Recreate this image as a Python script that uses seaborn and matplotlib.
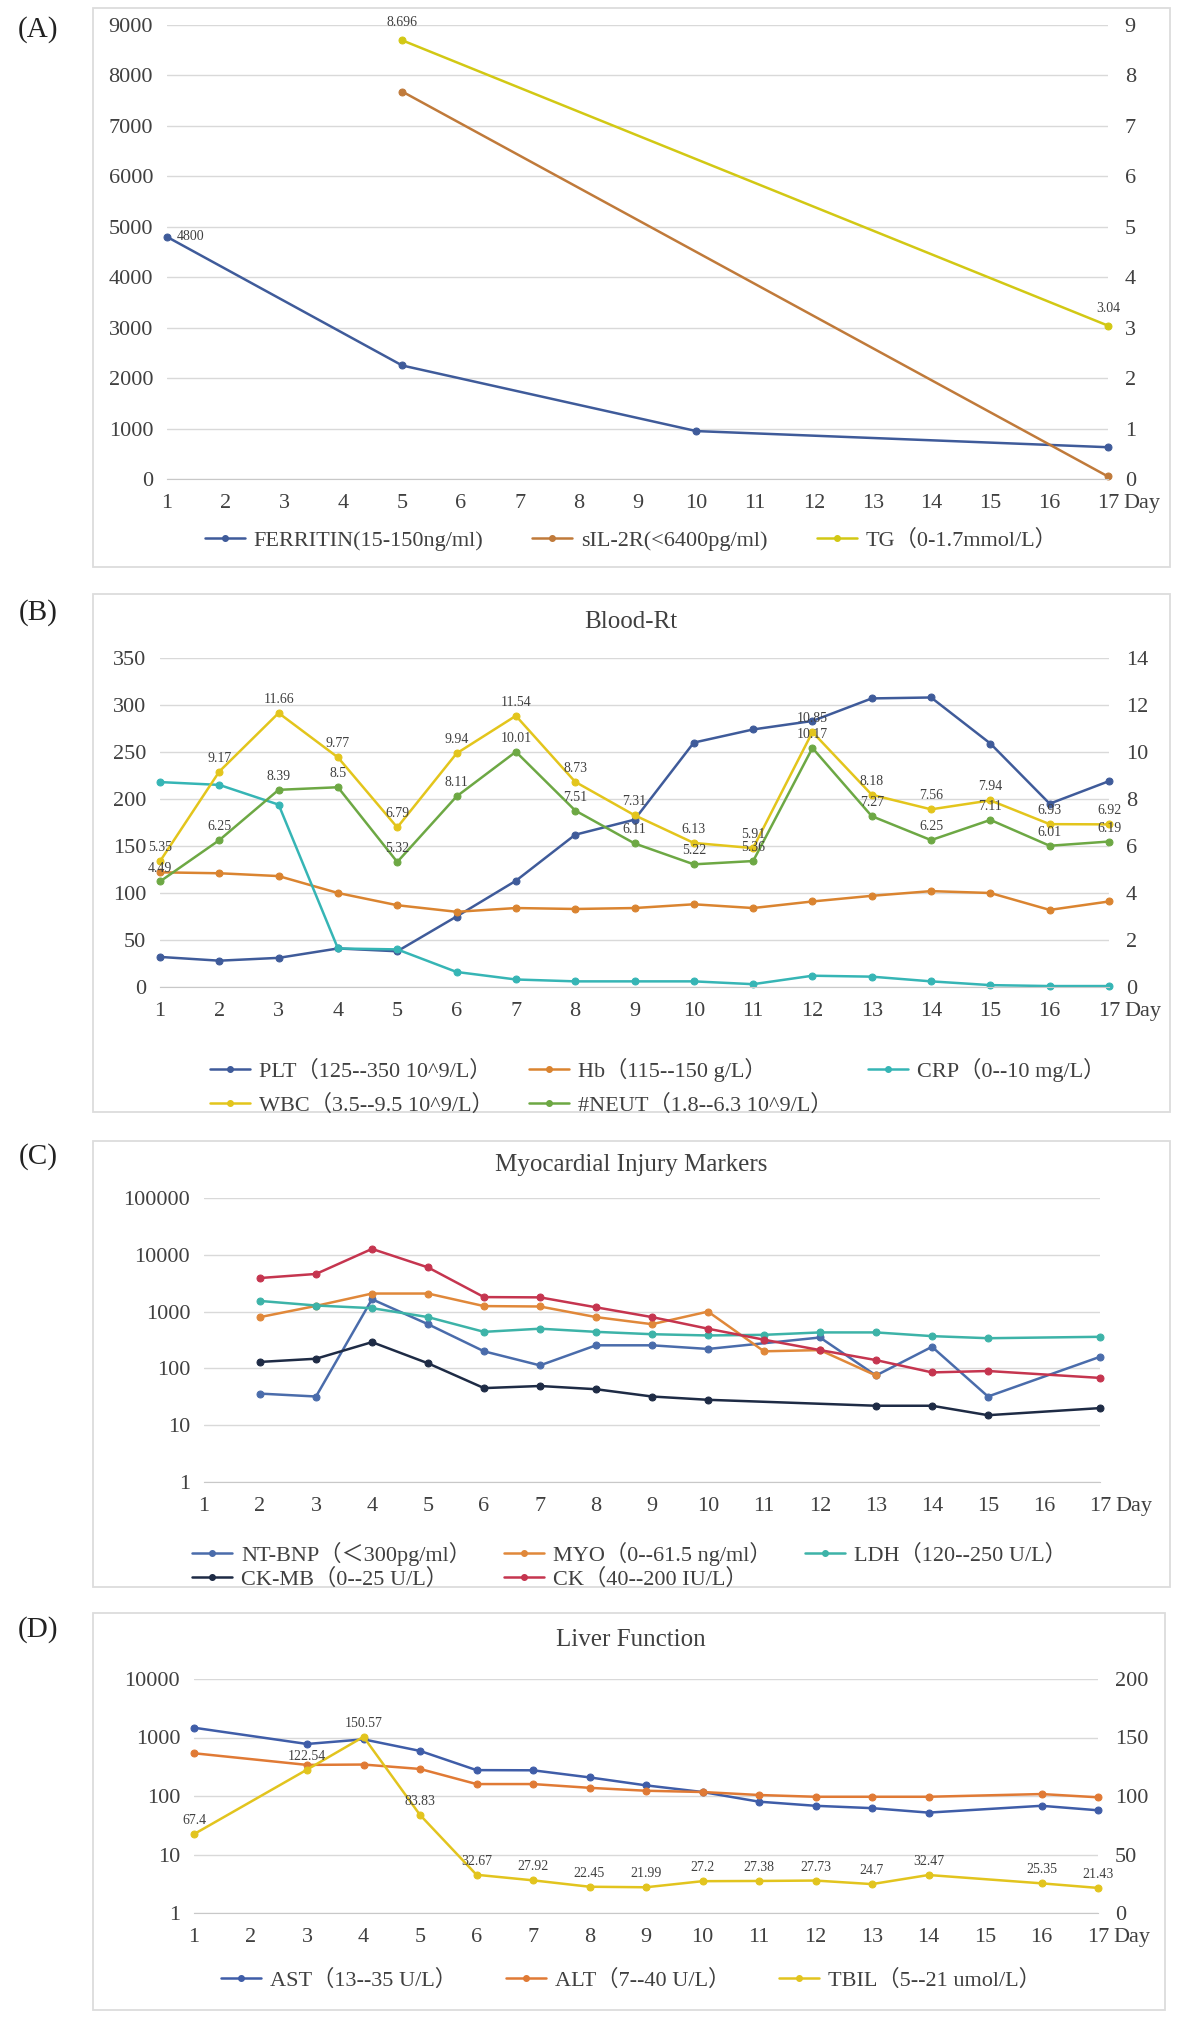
import numpy as np
import pandas as pd
import matplotlib
matplotlib.use("Agg")
import matplotlib.pyplot as plt
import seaborn as sns
from matplotlib.patches import Rectangle
from matplotlib.lines import Line2D
from matplotlib.ticker import FixedLocator, NullLocator

sns.set_style("white")
plt.rcParams['font.family'] = ['Liberation Serif', 'Noto Sans CJK SC', 'DejaVu Sans']

NA = np.nan
days = list(range(1, 18))

# ---------------- Panel A ----------------
ferritin = [4800, NA, NA, NA, 2250, NA, NA, NA, NA, 950, NA, NA, NA, NA, NA, NA, 630]
sil2r = [NA, NA, NA, NA, 7680, NA, NA, NA, NA, NA, NA, NA, NA, NA, NA, NA, 50]
tg = [NA, NA, NA, NA, 8.696, NA, NA, NA, NA, NA, NA, NA, NA, NA, NA, NA, 3.04]
labels_A = ["FERRITIN(15-150ng/ml)", "sIL-2R(<6400pg/ml)", "TG（0-1.7mmol/L）"]

# ---------------- Panel B ----------------
plt_v = [32, 28, 31, 41, 38, 75, 113, 162, 178, 260, 274, 283, 307, 308, 259, 195, 219]
hb = [122, 121, 118, 100, 87, 80, 84, 83, 84, 88, 84, 91, 97, 102, 100, 82, 91]
crp = [218, 215, 194, 41, 40, 16, 8, 6, 6, 6, 3, 12, 11, 6, 2, 1, 1]
wbc = [5.35, 9.17, 11.66, 9.77, 6.79, 9.94, 11.54, 8.73, 7.31, 6.13, 5.91, 10.85, 8.18, 7.56, 7.94, 6.93, 6.92]
neut = [4.49, 6.25, 8.39, 8.5, 5.32, 8.11, 10.01, 7.51, 6.11, 5.22, 5.36, 10.17, 7.27, 6.25, 7.11, 6.01, 6.19]
labels_B = ["PLT（125--350 10^9/L）", "Hb（115--150 g/L）", "CRP（0--10 mg/L）",
            "WBC（3.5--9.5 10^9/L）", "#NEUT（1.8--6.3 10^9/L）"]

# ---------------- Panel C ----------------
ntbnp = [NA, 36, 32, 1650, 600, 200, 113, 255, 255, 220, NA, 350, 75, 240, 32, NA, 160]
myo = [NA, 800, 1260, 2080, 2080, 1250, 1230, 800, 600, 1000, 200, 210, 75, NA, NA, NA, NA]
ldh = [NA, 1540, 1280, 1150, 800, 440, 500, 440, 400, 380, 390, 430, 430, 370, 340, NA, 360]
ckmb = [NA, 130, 148, 290, 123, 45, 49, 43, 32, 28, NA, NA, 22, 22, 15, NA, 20]
ck = [NA, 3900, 4600, 12700, 6000, 1800, 1780, 1190, 800, 500, 320, 210, 140, 85, 90, NA, 68]
labels_C = ["NT-BNP（＜300pg/ml）", "MYO（0--61.5 ng/ml）", "LDH（120--250 U/L）",
            "CK-MB（0--25 U/L）", "CK（40--200 IU/L）"]

# ---------------- Panel D ----------------
ast = [1470, NA, 775, 930, 590, 277, 275, 208, 152, 117, 80, 68, 62, 52, NA, 68, 57]
alt = [538, NA, 340, 345, 290, 160, 160, 138, 123, 117, 104, 97, 97, 97, NA, 108, 95]
tbil = [67.4, NA, 122.54, 150.57, 83.83, 32.67, 27.92, 22.45, 21.99, 27.2, 27.38, 27.73, 24.7, 32.47, NA, 25.35, 21.43]
labels_D = ["AST（13--35 U/L）", "ALT（7--40 U/L）", "TBIL（5--21 umol/L）"]

W, H = 1181, 2021
fig = plt.figure(figsize=(W / 100, H / 100), dpi=100)
fig.patch.set_facecolor("white")

TXT = "#404040"
GRID = "#d9d9d9"
TICKFS = 16


def ax_px(l, t, r, b):
    return fig.add_axes([l / W, 1 - b / H, (r - l) / W, (b - t) / H])


def box(l, t, r, b):
    fig.patches.append(Rectangle((l / W, 1 - b / H), (r - l) / W, (b - t) / H,
                                 transform=fig.transFigure, fill=False,
                                 ec="#dcdcdc", lw=1.3, zorder=0))


def series(ax, y, color, annotate=False, fmt="{:g}", offset=(0, 5)):
    df = pd.DataFrame({"day": days, "v": y}).dropna()
    sns.lineplot(data=df, x="day", y="v", ax=ax, color=color, marker="o",
                 markersize=5, markeredgecolor=color, linewidth=1.8, legend=False,
                 clip_on=False)
    if annotate:
        for d, v in zip(df["day"], df["v"]):
            ax.annotate(fmt.format(v), (d, v), xytext=offset, textcoords="offset points",
                        ha="center", va="bottom", fontsize=10, color=TXT)
    return Line2D([], [], color=color, lw=1.8, marker="o", markersize=4)


def style(ax, right=None):
    for s in ["top", "right", "left"]:
        ax.spines[s].set_visible(False)
    ax.spines["bottom"].set_color("#c8c8c8")
    ax.set_xlim(1, 17)
    ax.set_xticks(days)
    ax.tick_params(axis="x", length=6, direction="inout", color="#c8c8c8",
                   labelsize=TICKFS, labelcolor=TXT, pad=8)
    ax.tick_params(axis="y", length=0, labelsize=TICKFS, labelcolor=TXT, pad=10)
    ax.grid(axis="y", color=GRID, lw=1)
    ax.grid(axis="x", visible=False)
    ax.set_xlabel("")
    ax.set_ylabel("")
    ax.annotate("Day", xy=(17, 0), xycoords=("data", "axes fraction"),
                xytext=(11, -11), textcoords="offset points", ha="left", va="top",
                fontsize=TICKFS, color=TXT)


def style_right(ax2):
    for s in ["top", "right", "left", "bottom"]:
        ax2.spines[s].set_visible(False)
    ax2.tick_params(axis="y", length=0, labelsize=TICKFS, labelcolor=TXT, pad=12)
    ax2.grid(False)
    ax2.set_ylabel("")


def panel_label(txt, x, y):
    fig.text(x / W, 1 - y / H, txt, fontsize=21, color="#222222", ha="center", va="center")


def title(txt, y):
    fig.text(631 / W, 1 - y / H, txt, fontsize=18, color=TXT, ha="center", va="center")


# ================= Panel A =================
box(93, 8, 1170, 567)
panel_label("(A)", 38, 30)
axA = ax_px(167, 25, 1108, 479)
axA2 = axA.twinx()
hA = [series(axA, ferritin, "#3F5B9A"), series(axA, sil2r, "#C07A3A"),
      series(axA2, tg, "#D2C814")]
axA.annotate("4800", (1, 4800), xytext=(7, 0), textcoords="offset points",
             ha="left", va="center", fontsize=10, color=TXT)
axA2.annotate("8.696", (5, 8.696), xytext=(0, 8), textcoords="offset points",
              ha="center", va="bottom", fontsize=10, color=TXT)
axA2.annotate("3.04", (17, 3.04), xytext=(0, 8), textcoords="offset points",
              ha="center", va="bottom", fontsize=10, color=TXT)
axA.set_ylim(0, 9000)
axA.set_yticks(range(0, 9001, 1000))
axA2.set_ylim(0, 9)
axA2.set_yticks(range(0, 10))
style(axA)
style_right(axA2)
fig.legend(hA, labels_A, loc="center", bbox_to_anchor=(631 / W, 1 - 540 / H), ncol=3,
           frameon=False, fontsize=16, handlelength=1.8, handletextpad=0.4,
           columnspacing=2.2, labelcolor=TXT)

# ================= Panel B =================
box(93, 594, 1170, 1112)
panel_label("(B)", 38, 613)
title("Blood-Rt", 622)
axB = ax_px(160, 658, 1109, 987)
axB2 = axB.twinx()
hB = [series(axB, plt_v, "#3F5B9A"), series(axB, hb, "#DA8430"), series(axB, crp, "#36B5B5"),
      series(axB2, wbc, "#E3C51C", annotate=True), series(axB2, neut, "#6DA844", annotate=True)]
axB.set_ylim(0, 350)
axB.set_yticks(range(0, 351, 50))
axB2.set_ylim(0, 14)
axB2.set_yticks(range(0, 15, 2))
style(axB)
style_right(axB2)
order = [0, 3, 1, 4, 2]
fig.legend([hB[i] for i in order], [labels_B[i] for i in order], loc="upper left",
           bbox_to_anchor=(190 / W, 1 - 1038 / H), ncol=3, frameon=False, fontsize=16,
           handlelength=1.8, handletextpad=0.4, columnspacing=1.6, labelspacing=0.55,
           labelcolor=TXT)

# ================= Panel C =================
box(93, 1141, 1170, 1587)
panel_label("(C)", 38, 1157)
title("Myocardial Injury Markers", 1165)
axC = ax_px(204, 1198, 1100, 1482)
hC = [series(axC, ntbnp, "#4A6CAB"), series(axC, myo, "#E0883A"), series(axC, ldh, "#3DB3A8"),
      series(axC, ckmb, "#1E2B45"), series(axC, ck, "#C5354F")]
axC.set_yscale("log")
axC.set_ylim(1, 100000)
axC.yaxis.set_major_locator(FixedLocator([1, 10, 100, 1000, 10000, 100000]))
axC.yaxis.set_minor_locator(NullLocator())
axC.set_yticklabels(["1", "10", "100", "1000", "10000", "100000"])
style(axC)
fig.legend([hC[i] for i in order], [labels_C[i] for i in order], loc="upper left",
           bbox_to_anchor=(172 / W, 1 - 1522 / H), ncol=3, frameon=False, fontsize=16,
           handlelength=1.8, handletextpad=0.4, columnspacing=1.5, labelspacing=0.1,
           labelcolor=TXT)

# ================= Panel D =================
box(93, 1613, 1165, 2010)
panel_label("(D)", 38, 1630)
title("Liver Function", 1640)
axD = ax_px(194, 1679, 1098, 1913)
axD2 = axD.twinx()
hD = [series(axD, ast, "#3F5DA8"), series(axD, alt, "#E07A35"),
      series(axD2, tbil, "#E2C41E", annotate=True)]
axD.set_yscale("log")
axD.set_ylim(1, 10000)
axD.yaxis.set_major_locator(FixedLocator([1, 10, 100, 1000, 10000]))
axD.yaxis.set_minor_locator(NullLocator())
axD.set_yticklabels(["1", "10", "100", "1000", "10000"])
axD2.set_ylim(0, 200)
axD2.set_yticks(range(0, 201, 50))
style(axD)
style_right(axD2)
fig.legend(hD, labels_D, loc="center", bbox_to_anchor=(631 / W, 1 - 1980 / H), ncol=3,
           frameon=False, fontsize=16, handlelength=1.8, handletextpad=0.4,
           columnspacing=2.2, labelcolor=TXT)

fig.savefig("out.png", dpi=100, facecolor="white")
